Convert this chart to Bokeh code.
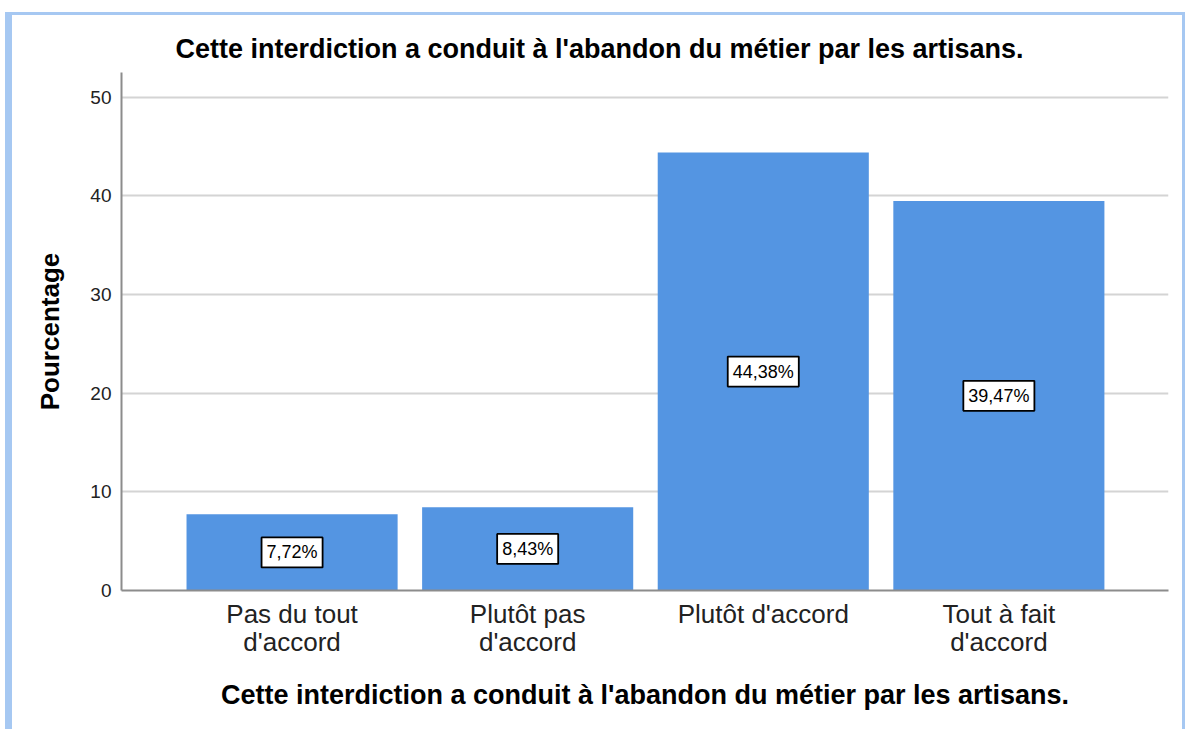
from bokeh.plotting import figure
from bokeh.models import ColumnDataSource, Label, FixedTicker, Range1d
from bokeh.embed import file_html
from bokeh.resources import INLINE

title_text = "Cette interdiction a conduit à l'abandon du métier par les artisans."
categories = ["Pas du tout\nd'accord", "Plutôt pas\nd'accord", "Plutôt d'accord", "Tout à fait\nd'accord"]
positions = [1, 2, 3, 4]
values = [7.72, 8.43, 44.38, 39.47]
y_ticks = [0, 10, 20, 30, 40, 50]

labels = [("%.2f" % v).replace(".", ",") + "%" for v in values]
src = ColumnDataSource(dict(x=positions, top=values))

FONT = "Liberation Sans"

p = figure(width=1185, height=729, output_backend="svg", toolbar_location=None,
           x_range=Range1d(0.276, 4.72), y_range=Range1d(0, 52.5),
           min_border_left=121, min_border_right=17, min_border_top=72, min_border_bottom=139)
p.border_fill_alpha = 0
p.background_fill_color = "white"
p.outline_line_color = None
p.styles = {"background-color": "white",
            "box-shadow": ("inset 5px 0 0 0 white, inset 0 12px 0 0 white, "
                           "inset 12px 0 0 0 #a6c8f2, inset 0 15px 0 0 #a6c8f2, "
                           "inset -3px 0 0 0 #a6c8f2")}

p.vbar(x="x", top="top", bottom=0, width=0.896, source=src,
       fill_color="#5495e2", line_color=None)

for xpos, v, t in zip(positions, values, labels):
    p.add_layout(Label(x=xpos, y=v / 2, text=t,
                       text_align="center", text_baseline="middle",
                       text_font=FONT, text_font_size="18px", text_color="black",
                       background_fill_color="white", border_line_color="black",
                       border_line_width=1.8, padding=5))

# title
p.title.text = title_text
p.title.text_font = FONT
p.title.text_font_size = "27px"
p.title.text_font_style = "bold"
p.title.align = "left"
p.title.offset = 54
p.title.standoff = 17
p.title.text_color = "black"

# x axis
xa = p.xaxis[0]
xa.ticker = FixedTicker(ticks=positions)
xa.major_label_overrides = {pos: c for pos, c in zip(positions, categories)}
xa.major_label_text_font = FONT
xa.major_label_text_font_size = "26px"
xa.major_label_text_line_height = 0.95
xa.major_label_text_color = "#222222"
xa.major_tick_in = 0
xa.major_tick_out = 0
xa.minor_tick_in = 0
xa.minor_tick_out = 0
xa.major_label_standoff = 8
xa.axis_line_color = "#8c8c8c"
xa.axis_line_width = 2
xa.axis_label = title_text
xa.axis_label_text_font = FONT
xa.axis_label_text_font_size = "27px"
xa.axis_label_text_font_style = "bold"
xa.axis_label_text_color = "black"
xa.axis_label_standoff = 20

# y axis
ya = p.yaxis[0]
ya.ticker = FixedTicker(ticks=y_ticks)
ya.major_label_text_font = FONT
ya.major_label_text_font_size = "19px"
ya.major_label_text_color = "#222222"
ya.major_tick_in = 0
ya.major_tick_out = 0
ya.minor_tick_in = 0
ya.minor_tick_out = 0
ya.major_label_standoff = 10
ya.axis_line_color = "#8c8c8c"
ya.axis_line_width = 2
ya.axis_label = "Pourcentage"
ya.axis_label_text_font = FONT
ya.axis_label_text_font_size = "26px"
ya.axis_label_text_font_style = "bold"
ya.axis_label_text_color = "black"
ya.axis_label_standoff = 22

p.xgrid.visible = False
p.ygrid.grid_line_color = "#d4d4d4"
p.ygrid.grid_line_width = 2

open("out.html", "w").write(file_html(p, INLINE))
